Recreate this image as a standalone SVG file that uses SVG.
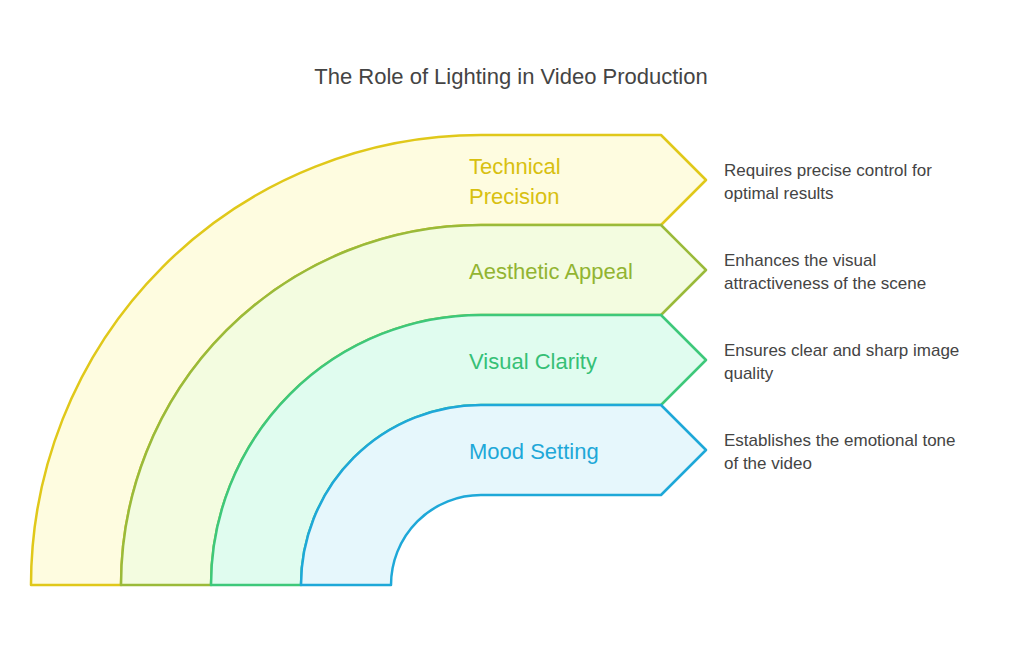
<svg xmlns="http://www.w3.org/2000/svg" width="1023" height="648" viewBox="0 0 1023 648">
<style>
.b{stroke-width:2.5;stroke-linejoin:round}
.l{font-family:"Liberation Sans",Arial,sans-serif;font-size:22px}
.d{font-family:"Liberation Sans",Arial,sans-serif;font-size:17px;fill:#444}
</style>
<rect width="1023" height="648" fill="#fff"/>
<text x="511" y="84" text-anchor="middle" font-family="Liberation Sans, Arial, sans-serif" font-size="22" fill="#444">The Role of Lighting in Video Production</text>
<g id="technical">
<path class="b" d="M31,585 A450,450 0 0 1 481,135 L661,135 L706,180 L661,225 L481,225 A360,360 0 0 0 121,585 Z" fill="#fefce0" stroke="#e0c81a"/>
<text class="l" x="469" y="174" fill="#d8c010">Technical</text>
<text class="l" x="469" y="204" fill="#d8c010">Precision</text>
<text class="d" x="724" y="176">Requires precise control for</text>
<text class="d" x="724" y="199">optimal results</text>
</g>
<g id="aesthetic">
<path class="b" d="M121,585 A360,360 0 0 1 481,225 L661,225 L706,270 L661,315 L481,315 A270,270 0 0 0 211,585 Z" fill="#f3fce0" stroke="#9aba3a"/>
<text class="l" x="469" y="279" fill="#92b432">Aesthetic Appeal</text>
<text class="d" x="724" y="266">Enhances the visual</text>
<text class="d" x="724" y="289">attractiveness of the scene</text>
</g>
<g id="clarity">
<path class="b" d="M211,585 A270,270 0 0 1 481,315 L661,315 L706,360 L661,405 L481,405 A180,180 0 0 0 301,585 Z" fill="#e0fcef" stroke="#3ec87a"/>
<text class="l" x="469" y="369" fill="#36c076">Visual Clarity</text>
<text class="d" x="724" y="356">Ensures clear and sharp image</text>
<text class="d" x="724" y="379">quality</text>
</g>
<g id="mood">
<path class="b" d="M301,585 A180,180 0 0 1 481,405 L661,405 L706,450 L661,495 L481,495 A90,90 0 0 0 391,585 Z" fill="#e6f7fc" stroke="#1ea8d8"/>
<text class="l" x="469" y="459" fill="#1ea8d8">Mood Setting</text>
<text class="d" x="724" y="446">Establishes the emotional tone</text>
<text class="d" x="724" y="469">of the video</text>
</g>
<g id="connectors"/>
</svg>
